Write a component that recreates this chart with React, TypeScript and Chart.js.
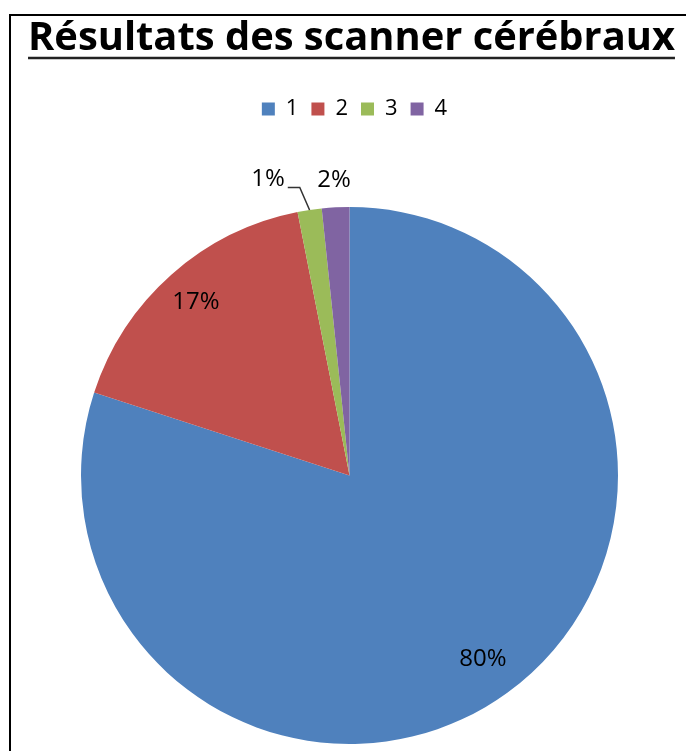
import React, { useEffect, useRef } from 'react';
import { Chart, registerables } from 'chart.js';

Chart.register(...registerables);

const TITLE = 'Résultats des scanner cérébraux';
const CATEGORIES = ['1', '2', '3', '4'];
const VALUES = [80.0, 16.9, 1.45, 1.65];
const COLORS = ['#4F81BD', '#C0504D', '#9BBB59', '#8064A2'];

const FONT = "'Open Sans', 'DejaVu Sans', sans-serif";
const TITLE_WIDTH = 647;
const TITLE_BASELINE = 50;
const LEGEND_TOP = 85;
const LEGEND_GAP = 77;
const LEGEND_SHIFT = 5;
const TITLE_SHIFT = 2;

function measureTitle() {
  const c = document.createElement('canvas').getContext('2d') as CanvasRenderingContext2D;
  c.font = `bold 40px ${FONT}`;
  const w = c.measureText(TITLE).width;
  const size = (40 * TITLE_WIDTH) / w;
  c.font = `bold ${size}px ${FONT}`;
  c.textBaseline = 'middle';
  const d = c.measureText('R').actualBoundingBoxDescent;
  return { size, descent: d };
}

const layoutPlugin = {
  id: 'layoutTweaks',
  beforeInit(chart: any) {
    const legend = chart.legend;
    if (legend) {
      const fit = legend.fit;
      legend.fit = function () {
        fit.call(this);
        this.height += LEGEND_GAP;
      };
    }
  },
  afterLayout(chart: any) {
    const l = chart.legend;
    if (l) {
      l.left += LEGEND_SHIFT;
      l.right += LEGEND_SHIFT;
    }
    const t = chart.titleBlock;
    if (t) {
      t.left += TITLE_SHIFT;
      t.right += TITLE_SHIFT;
    }
  },
};

const decorPlugin = {
  id: 'decor',
  afterDatasetsDraw(chart: any, _args: any, opts: any) {
    const ctx = chart.ctx as CanvasRenderingContext2D;
    const meta = chart.getDatasetMeta(0);
    const total = VALUES.reduce((a, b) => a + b, 0);
    ctx.save();
    ctx.font = `${opts.fontSize}px ${FONT}`;
    ctx.fillStyle = '#000';
    ctx.textAlign = 'center';
    ctx.textBaseline = 'middle';
    meta.data.forEach((arc: any, i: number) => {
      const { x, y, startAngle, endAngle, outerRadius } = arc.getProps(
        ['x', 'y', 'startAngle', 'endAngle', 'outerRadius'],
        true
      );
      const mid = (startAngle + endAngle) / 2;
      const text = Math.round((VALUES[i] / total) * 100) + '%';
      const f = opts.radial[i];
      const sx = opts.shiftX[i];
      const lx = x + Math.cos(mid) * outerRadius * f + sx;
      const ly = y + Math.sin(mid) * outerRadius * f;
      ctx.fillText(text, lx, ly);
      if (sx !== 0) {
        const w = ctx.measureText(text).width;
        const x0 = lx + w / 2 + 3;
        const y0 = ly + 8;
        const x1 = x0 + 12;
        const ex = x + Math.cos(mid) * outerRadius;
        const ey = y + Math.sin(mid) * outerRadius;
        ctx.beginPath();
        ctx.moveTo(x0, y0);
        ctx.lineTo(x1, y0);
        ctx.lineTo(ex, ey);
        ctx.strokeStyle = '#333';
        ctx.lineWidth = 1.5;
        ctx.stroke();
      }
    });
    ctx.restore();
  },
  afterDraw(chart: any, _args: any, opts: any) {
    const tb = chart.titleBlock;
    if (!tb) return;
    const ctx = chart.ctx as CanvasRenderingContext2D;
    ctx.save();
    ctx.font = `bold ${opts.titleSize}px ${FONT}`;
    const w = ctx.measureText(TITLE).width;
    const cx = (tb.left + tb.right) / 2;
    ctx.beginPath();
    ctx.moveTo(cx - w / 2, opts.underlineY);
    ctx.lineTo(cx + w / 2, opts.underlineY);
    ctx.strokeStyle = '#222';
    ctx.lineWidth = 2.5;
    ctx.stroke();
    ctx.restore();
  },
};

export default function App() {
  const ref = useRef<HTMLCanvasElement | null>(null);

  useEffect(() => {
    if (!ref.current) return;
    const { size, descent } = measureTitle();
    const lh = size * 1.2;
    const middle = TITLE_BASELINE - descent;
    const padTop = middle - lh / 2;
    const padBottom = LEGEND_TOP - padTop - lh;

    const chart = new Chart(ref.current, {
      type: 'pie',
      data: {
        labels: CATEGORIES,
        datasets: [
          {
            data: VALUES,
            backgroundColor: COLORS,
            borderWidth: 0,
            hoverOffset: 0,
          },
        ],
      },
      options: {
        responsive: false,
        animation: false,
        events: [],
        layout: { padding: { top: 0, left: 13, right: 0, bottom: 7 } },
        plugins: {
          title: {
            display: true,
            text: TITLE,
            color: '#000',
            font: { family: FONT, size, weight: 'bold', lineHeight: 1.2 },
            padding: { top: padTop, bottom: padBottom },
          },
          legend: {
            display: true,
            position: 'top',
            labels: {
              boxWidth: 13,
              boxHeight: 13,
              padding: 13,
              color: '#000',
              font: { family: FONT, size: 22 },
            },
          },
          tooltip: { enabled: false },
          decor: {
            fontSize: 24,
            radial: [0.845, 0.862, 1.115, 1.103],
            shiftX: [0, 0, -37, 0],
            titleSize: size,
            underlineY: TITLE_BASELINE + 8,
          },
        } as any,
      },
      plugins: [layoutPlugin, decorPlugin],
    });
    return () => chart.destroy();
  }, []);

  return (
    <div style={{ position: 'absolute', left: 0, top: 0, width: 686, height: 751, background: '#fff' }}>
      <div
        style={{
          position: 'absolute',
          left: 9,
          top: 14,
          width: 677,
          height: 737,
          boxSizing: 'border-box',
          borderTop: '2px solid #000',
          borderLeft: '2px solid #000',
        }}
      />
      <canvas
        ref={ref}
        width={686}
        height={751}
        style={{ position: 'absolute', left: 0, top: 0, width: 686, height: 751 }}
      />
    </div>
  );
}
